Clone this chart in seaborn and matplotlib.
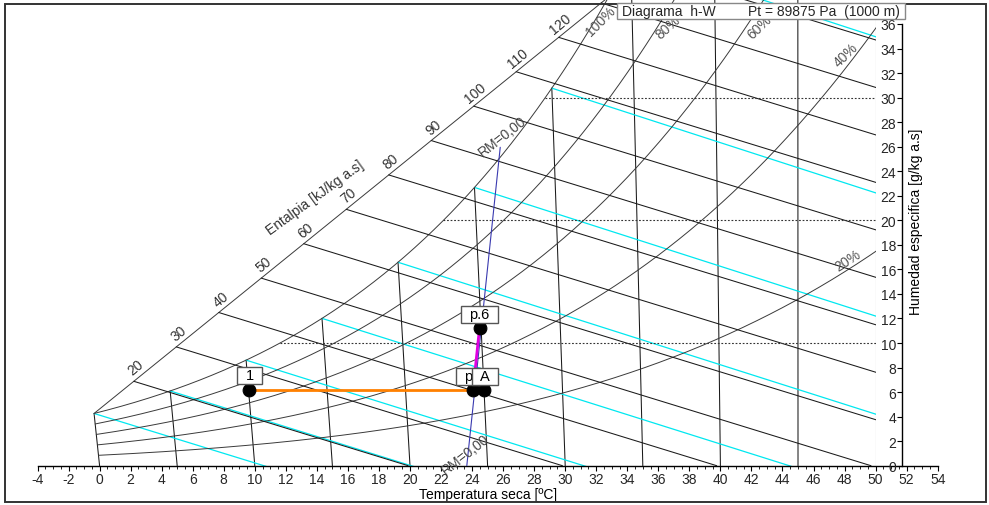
import numpy as np
import pandas as pd
import matplotlib
matplotlib.use("Agg")
import matplotlib.pyplot as plt
import seaborn as sns
from matplotlib.patches import Rectangle
from matplotlib.path import Path

# ---------------- data ----------------
P_TOTAL = 89875.0                     # Pa
isotherm_T = [0, 5, 10, 15, 20, 25, 30, 35, 40, 45]
wetbulb_T = [0, 5, 10, 15, 20, 25, 30, 35]
enthalpy_h = [20, 30, 40, 50, 60, 70, 80, 90, 100, 110, 120, 130, 140]
enthalpy_labels = [20, 30, 40, 50, 60, 70, 80, 90, 100, 110, 120]
rh_values = [1.0, 0.8, 0.6, 0.4, 0.2]
rh_labels = ["100%", "80%", "60%", "40%", "20%"]
rh_label_x = [32.3, 36.6, 42.5, 48.1, 48.2]
rh_label_w = [36.3, 35.8, 35.8, 33.5, 16.8]
rh_label_rot = [45, 42, 44, 44, 33]
w_guides = [10, 20, 30]
x_ticks = list(range(-4, 55, 2))
y_ticks = list(range(0, 37, 2))

point_names = ["1", "p", "A", "p.6"]
point_T = [10.0, 24.3, 25.0, 24.9]
point_W = [6.17, 6.17, 6.17, 11.22]

rm_T = [23.66, 26.7]
rm_W = [0.0, 25.95]

# ---------------- psychrometrics ----------------
A_SKEW = 2.585


def pws(T):
    return 610.94 * np.exp(17.625 * T / (T + 243.04))


def wsat(T, phi=1.0):
    pw = phi * pws(T)
    return 622.0 * pw / (P_TOTAL - pw)


def xp(T, W):
    return T + W * (2.501 + 0.00186 * T - A_SKEW) / 1.006


# ---------------- figure ----------------
W_PX, H_PX = 989, 506


def fx(px):
    return px / W_PX


def fy(py):
    return 1 - py / H_PX


sns.set_theme(style="white")
plt.rcParams["font.family"] = ["Liberation Sans", "DejaVu Sans"]
plt.rcParams["axes.unicode_minus"] = False

fig = plt.figure(figsize=(9.89, 5.06), dpi=100)
fig.patch.set_facecolor("white")
X0, X1, Y0, YT = 37.5, 937.7, 466.7, 5.0
ax = fig.add_axes([fx(X0), fy(Y0), fx(X1) - fx(X0), fy(YT) - fy(Y0)])
ax.set_xlim(-4, 54)
ax.set_ylim(0, (Y0 - YT) / 12.27)
ax.patch.set_alpha(0)

clip_rect = Rectangle((-10, 0), 60, 60, transform=ax.transData)


def cline(x, y, **kw):
    ln, = ax.plot(x, y, **kw)
    ln.set_clip_path(clip_rect)
    return ln


BLACK = "#1a1a1a"
LW = 0.75

# isotherms
for T in isotherm_T:
    wtop = min(wsat(T), 45.0)
    cline([xp(T, 0), xp(T, wtop)], [0, wtop], color=BLACK, lw=LW, zorder=2)
cline([50, 50], [0, 45], color=BLACK, lw=LW, zorder=2)

# wet-bulb lines (cyan)
for twb in wetbulb_T:
    ws_star = wsat(twb) / 1000.0
    T = np.linspace(twb, twb + 45, 300)
    W = ((2501 - 2.326 * twb) * ws_star - 1.006 * (T - twb)) / (2501 + 1.86 * T - 4.186 * twb) * 1000
    m = W >= -0.5
    cline(xp(T[m], W[m]), W[m], color="#00e8f0", lw=0.9, zorder=2)

# relative humidity curves
Tg = np.linspace(0, 56, 500)
for phi in rh_values:
    W = wsat(Tg, phi)
    cline(xp(Tg, W), W, color="#3a3a3a", lw=0.7, zorder=2)

# enthalpy scale diagonal
W0 = wsat(0.0)
x0 = xp(0.0, W0)
S = 1.024
xd = np.array([x0, x0 + 40])
cline(xd, W0 + S * (xd - x0), color="#3a3a3a", lw=0.7, zorder=2)

# enthalpy lines
for h in enthalpy_h:
    xs = (h - A_SKEW * W0 + A_SKEW * S * x0) / (1.006 + A_SKEW * S)
    wst = W0 + S * (xs - x0)
    cline([xs, h / 1.006], [wst, 0], color=BLACK, lw=LW, zorder=2)
    if h in enthalpy_labels:
        ax.annotate(str(h), (xs, wst), xytext=(1.5, 10), textcoords="offset points",
                    ha="center", va="center", rotation=40, fontsize=10, color="#333333")

ax.text(13.9, 21.9, "Entalpia [kJ/kg a.s]", rotation=36, ha="center", va="center",
        fontsize=10, color="#333333")

# dotted humidity guides
Ttab = np.linspace(0, 40, 2000)
Wtab = wsat(Ttab)
for wg in w_guides:
    ts = np.interp(wg, Wtab, Ttab)
    cline([xp(ts, wg), 50], [wg, wg], color="#333333", lw=0.8, ls=(0, (1.6, 1.6)), zorder=2)

# RH labels
for lab, lx, lw_, rot in zip(rh_labels, rh_label_x, rh_label_w, rh_label_rot):
    ax.text(lx, lw_, lab, rotation=rot, ha="center", va="center", fontsize=10, color="#555555")

# RM line
rm_x = [xp(t, w) for t, w in zip(rm_T, rm_W)]
ax.plot(rm_x, rm_W, color="#3a3ab0", lw=0.8, zorder=3)
ax.text(25.93, 26.9, "RM=0,00", rotation=38, ha="center", va="center", fontsize=10, color="#444444")
ax.text(23.6, 0.95, "RM=0,00", rotation=38, ha="center", va="center", fontsize=10, color="#444444")

# process lines and points
pts = pd.DataFrame({"name": point_names, "T": point_T, "W": point_W})
pts["x"] = [xp(t, w) for t, w in zip(pts["T"], pts["W"])]
seg1 = pts.iloc[[0, 1]]
seg2 = pts.iloc[[1, 3]]
sns.lineplot(data=seg1, x="x", y="W", sort=False, estimator=None, color="#ff8000", lw=2.0, ax=ax, zorder=4)
sns.lineplot(data=seg2, x="x", y="W", sort=False, estimator=None, color="#e000e0", lw=2.0, ax=ax, zorder=4)
sns.scatterplot(data=pts, x="x", y="W", color="black", s=85, edgecolor="black", ax=ax, zorder=5, legend=False)


def label_box(x0_, y0_, width, height, mutation_size):
    px_ = 0.55 * mutation_size
    py_ = 0.1 * mutation_size
    xa, ya = x0_ - px_, y0_ - py_
    xb, yb = x0_ + width + px_, y0_ + height + py_
    return Path([(xa, ya), (xb, ya), (xb, yb), (xa, yb), (xa, ya)], closed=True)


label_off = {"1": (0.7, 10.6), "p": (-3.4, 9.8), "A": (0.5, 9.8), "p.6": (0.0, 10.0)}
label_z = {"1": 6, "p": 6, "A": 7, "p.6": 6}
for _, r in pts.iterrows():
    ax.annotate(r["name"], (r["x"], r["W"]), xytext=label_off[r["name"]], textcoords="offset points",
                ha="center", va="center", fontsize=10.5, color="black", zorder=label_z[r["name"]],
                bbox=dict(boxstyle=label_box, facecolor="white", edgecolor="#555555", lw=1.0))

# x axis
for s in ["top", "left", "right"]:
    ax.spines[s].set_visible(False)
ax.spines["bottom"].set_color("black")
ax.spines["bottom"].set_linewidth(1.0)
ax.set_xticks(x_ticks)
ax.set_xticks(np.arange(-4, 54.01, 0.5), minor=True)
ax.set_yticks([])
ax.tick_params(axis="x", which="major", direction="out", length=3.6, width=0.8, color="black",
               labelsize=10, pad=1.0, bottom=True)
ax.tick_params(axis="x", which="minor", direction="out", length=2.0, width=0.6, color="black", bottom=True)
ax.set_xlabel("Temperatura seca [ºC]", fontsize=10, labelpad=1.0, color="black")
ax.set_ylabel("")

# right humidity axis
ax2 = fig.add_axes([fx(902), fy(Y0), 0.002, fy(25) - fy(Y0)])
ax2.set_ylim(0, 36)
ax2.patch.set_alpha(0)
for s in ["top", "bottom", "right"]:
    ax2.spines[s].set_visible(False)
ax2.spines["left"].set_color("black")
ax2.spines["left"].set_linewidth(1.0)
ax2.set_xticks([])
ax2.set_yticks(y_ticks)
ax2.tick_params(axis="y", direction="out", length=3.6, width=0.8, color="black", labelsize=10, pad=0.5, left=True)
fig.text(fx(916), fy(222), "Humedad especifica [g/kg a.s]", rotation=90, ha="center", va="center",
         fontsize=10, color="black")

# title box
fig.add_artist(Rectangle((fx(617), fy(20)), fx(905) - fx(617), fy(4) - fy(20), transform=fig.transFigure,
                         facecolor="white", edgecolor="#888888", lw=1.0, zorder=10))
fig.text(fx(622), fy(12), "Diagrama  h-W", ha="left", va="center", fontsize=10, zorder=11)
fig.text(fx(900), fy(12), "Pt = 89875 Pa  (1000 m)", ha="right", va="center", fontsize=10, zorder=11)

# outer frame
fig.add_artist(Rectangle((fx(4.5), fy(502.5)), fx(985.5) - fx(4.5), fy(4.5) - fy(502.5),
                         transform=fig.transFigure, fill=False, edgecolor="#333333", lw=1.4, zorder=9))

fig.savefig("out.png", dpi=100)
